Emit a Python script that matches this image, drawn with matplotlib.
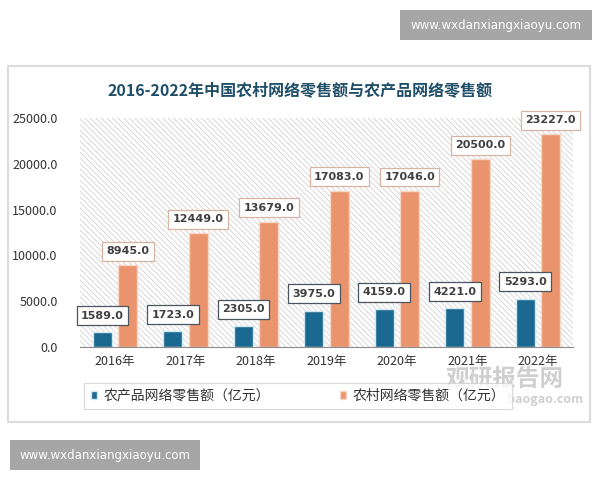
import matplotlib
matplotlib.use("Agg")
import matplotlib.pyplot as plt
from matplotlib.patches import Rectangle, FancyBboxPatch

plt.rcParams['font.family'] = ['Noto Sans CJK SC', 'DejaVu Sans']
plt.rcParams['hatch.linewidth'] = 0.6

years = ['2016年', '2017年', '2018年', '2019年', '2020年', '2021年', '2022年']
agri_online = [1589.0, 1723.0, 2305.0, 3975.0, 4159.0, 4221.0, 5293.0]
rural_online = [8945.0, 12449.0, 13679.0, 17083.0, 17046.0, 20500.0, 23227.0]
series_names = ['农产品网络零售额（亿元）', '农村网络零售额（亿元）']
title = '2016-2022年中国农村网络零售额与农产品网络零售额'
yticks = [0, 5000, 10000, 15000, 20000, 25000]

c_dark = '#1B6890'
c_orange = '#E9946D'

fig = plt.figure(figsize=(6, 4.8), dpi=100)
fig.patch.set_facecolor('white')

# card
card = FancyBboxPatch((8/600, 1-422/480), 582/600, (422-66)/480,
                      boxstyle='square,pad=0', transform=fig.transFigure,
                      fc='white', ec='#dcdcdc', lw=1.5, zorder=-10)
fig.patches.append(card)

ax = fig.add_axes([80/600, 1-347/480, 493/600, 229/480])
ax.set_facecolor('white')
ax.add_patch(Rectangle((0, 0), 1, 1, transform=ax.transAxes, fill=False,
                       hatch='\\\\\\\\\\\\', edgecolor='#d2d2d2', lw=0, zorder=0))

x = list(range(len(years)))
w = 0.27
off = 0.18
xd = [i - off for i in x]
xo = [i + off for i in x]
bd = ax.bar(xd, agri_online, w, color=c_dark, edgecolor='#cfe8f2', lw=1, zorder=2,
            label=series_names[0])
bo = ax.bar(xo, rural_online, w, color=c_orange, edgecolor='#f6d6c6', lw=1, zorder=2,
            label=series_names[1])

for xi, v in zip(xd, agri_online):
    ax.annotate(f'{v:.1f}', (xi, v), xytext=(0, 12), textcoords='offset points',
                ha='center', va='center', fontsize=8, fontweight='bold', color='#404040',
                family=['DejaVu Sans'],
                bbox=dict(boxstyle='square,pad=0.4', fc='white', ec='#4a5560', lw=0.9),
                zorder=5)
for xi, v in zip(xo, rural_online):
    ax.annotate(f'{v:.1f}', (xi, v), xytext=(0, 10), textcoords='offset points',
                ha='center', va='center', fontsize=8, fontweight='bold', color='#404040',
                family=['DejaVu Sans'],
                bbox=dict(boxstyle='square,pad=0.4', fc='white', ec='#d8b4a2', lw=0.9),
                zorder=5)

ax.set_xlim(-0.5, len(years) - 0.5)
ax.set_ylim(0, 25000)
ax.set_yticks(yticks)
ax.set_yticklabels([f'{t:.1f}' for t in yticks], fontsize=9, color='#333333')
ax.set_xticks(x)
ax.set_xticklabels(years, fontsize=9, color='#333333')
ax.tick_params(axis='both', length=0)
ax.tick_params(axis='y', pad=16)
ax.tick_params(axis='x', pad=6)
for s in ['top', 'right', 'left']:
    ax.spines[s].set_visible(False)
ax.spines['bottom'].set_color('#8c8c8c')
ax.spines['bottom'].set_zorder(3)

fig.text(0.5, 1-90/480, title, ha='center', va='center', fontsize=11.5,
         fontweight='bold', color='#1F4F68')

leg = fig.legend(handles=[bd, bo], labels=series_names, loc='center',
                 bbox_to_anchor=(298/600, 1-396/480), ncol=2, fontsize=10,
                 frameon=True, fancybox=False, edgecolor='#d0d0d0',
                 handlelength=0.45, handleheight=0.45, columnspacing=5.0,
                 handletextpad=0.5, borderpad=0.45)
for t in leg.get_texts():
    t.set_color('#333333')
leg.get_frame().set_linewidth(0.8)

# watermark of source
fig.text(505/600, 1-379/480, '观研报告网', ha='center', va='center', fontsize=17,
         fontweight='bold', color='#a0a0a0', alpha=0.5)
fig.text(545/600, 1-399/480, 'baogao.com', ha='center', va='center', fontsize=9,
         fontweight='bold', color='#a0a0a0', alpha=0.5)

# grey site boxes
for (x0, y0, x1, y1) in [(400, 10, 592, 40), (10, 440, 200, 470)]:
    fig.patches.append(Rectangle((x0/600, 1-y1/480), (x1-x0)/600, (y1-y0)/480,
                                 transform=fig.transFigure, fc='#a6a6a6', ec='none'))
    fig.text((x0+x1)/2/600, 1-(y0+y1)/2/480, 'www.wxdanxiangxiaoyu.com',
             ha='center', va='center', fontsize=8.5, color='white',
             family=['DejaVu Sans'])

fig.savefig('out.png', dpi=100)
